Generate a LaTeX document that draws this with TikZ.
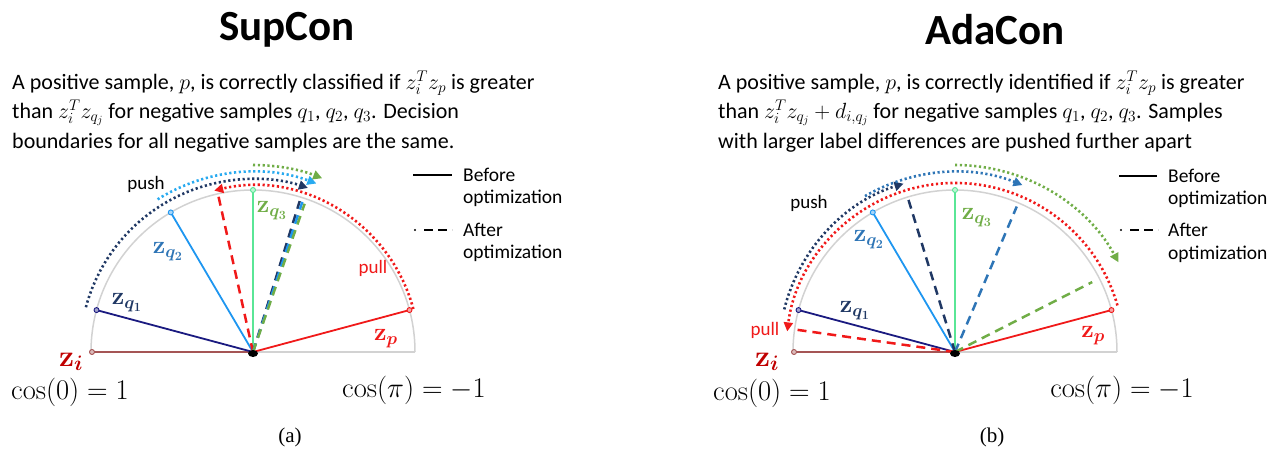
\RequirePackage{fix-cm}
\documentclass[tikz,border=0pt]{standalone}
\usepackage{amsmath}
\usepackage{bm}
\usepackage[no-math]{fontspec}
\setmainfont{Carlito}
\newfontfamily\timesf{Liberation Serif}
\usetikzlibrary{arrows.meta}
\definecolor{navy}{RGB}{26,26,128}
\definecolor{navyd}{RGB}{32,56,100}
\definecolor{lblue}{RGB}{30,150,240}
\definecolor{cyanb}{RGB}{40,170,240}
\definecolor{mblue}{RGB}{46,117,182}
\definecolor{lgreen}{RGB}{90,230,150}
\definecolor{ogreen}{RGB}{112,173,71}
\definecolor{myred}{RGB}{240,25,25}
\definecolor{brownr}{RGB}{165,85,85}
\definecolor{darkred}{RGB}{192,0,0}
\definecolor{arcgray}{RGB}{210,210,210}
\begin{document}
\begin{tikzpicture}[x=1pt,y=1pt,
  vec/.style={line width=1.8pt},
  aft/.style={line width=2.5pt, dash pattern=on 9pt off 6pt},
  dotarc/.style={line width=2.6pt, dash pattern=on 2.2pt off 2.6pt, -{Triangle[length=9pt,width=9pt]}},
  endpt/.style={circle, draw=#1, fill=#1!40, line width=0.9pt, inner sep=0pt, minimum size=5pt},
  title/.style={font=\fontsize{43}{50}\bfseries\selectfont},
  body/.style={font=\fontsize{22}{29}\selectfont, anchor=base west, inner sep=0pt},
  leg/.style={font=\fontsize{19.5}{23}\selectfont, anchor=base west, inner sep=0pt},
  small/.style={font=\fontsize{19}{22}\selectfont},
  zlab/.style={font=\fontsize{25}{27}\selectfont},
  zilab/.style={font=\fontsize{30}{31}\selectfont, text=darkred},
  cosl/.style={font=\fontsize{28.5}{30}\selectfont},
  capt/.style={font=\fontsize{21}{24}\selectfont\timesf},
  semi/.style={draw=arcgray, line width=1.5pt}
]
\useasboundingbox (0,0) rectangle (1286,-455);

% ---------- titles ----------
\node[title] (t1) at (287,-30) {SupCon};
\node[title] (t2) at (995,-30) {AdaCon};

% ---------- body texts ----------
\node[body] (a1) at (12,-89) {A positive sample, $p$, is correctly classified if $z_i^T z_p$ is greater};
\node[body] (a2) at (12,-118) {than $z_i^T z_{q_j}$ for negative samples $q_1$, $q_2$, $q_3$. Decision};
\node[body] (a3) at (12,-148) {boundaries for all negative samples are the same.};
\node[body] (b1) at (718,-89) {A positive sample, $p$, is correctly identified if $z_i^T z_p$ is greater};
\node[body] (b2) at (718,-118) {than $z_i^T z_{q_j} + d_{i,q_j}$ for negative samples $q_1$, $q_2$, $q_3$. Samples};
\node[body] (b3) at (718,-148) {with larger label differences are pushed further apart};

% ---------- legends ----------
\coordinate (L1s) at (413,-175); \coordinate (L1e) at (452,-175);
\draw[line width=2.2pt] (L1s) -- (L1e);
\node[leg] (lb1) at (463,-181) {Before};
\node[leg] (lo1) at (463,-203) {optimization};
\fill (415,-230) circle (1.1pt);
\coordinate (L1ds) at (424,-230); \coordinate (L1de) at (452,-230);
\draw[line width=2.2pt, dash pattern=on 9pt off 5pt] (L1ds) -- (L1de);
\node[leg] (la1) at (463,-236) {After};
\node[leg] (lo1b) at (463,-258) {optimization};

\coordinate (L2s) at (1119,-176); \coordinate (L2e) at (1157,-176);
\draw[line width=2.2pt] (L2s) -- (L2e);
\node[leg] (lb2) at (1168,-182) {Before};
\node[leg] (lo2) at (1168,-204) {optimization};
\fill (1121,-230) circle (1.1pt);
\coordinate (L2ds) at (1130,-230); \coordinate (L2de) at (1158,-230);
\draw[line width=2.2pt, dash pattern=on 9pt off 5pt] (L2ds) -- (L2de);
\node[leg] (la2) at (1168,-236) {After};
\node[leg] (lo2b) at (1168,-259) {optimization};

% ---------- panel (a) ----------
\begin{scope}[shift={(253,-352)}]
  \coordinate (O) at (0,0);
  \coordinate (Zi) at (180:161);
  \coordinate (Q1) at (165:162);
  \coordinate (Q2) at (120.5:162);
  \coordinate (Q3) at (90:162);
  \coordinate (P) at (15:162);
  \draw[semi] (162,0) arc[start angle=0,end angle=180,radius=162];
  \draw[semi] (O) -- (162,0);
  % dotted arcs
  \draw[dotarc, myred] (15:166) arc[start angle=15,end angle=103.5,radius=166];
  \draw[dotarc, navyd] (165:173) arc[start angle=165,end angle=71.5,radius=173];
  \draw[dotarc, cyanb] (122:180) arc[start angle=122,end angle=69.4,radius=180];
  \draw[dotarc, ogreen] (90:187) arc[start angle=90,end angle=68.3,radius=187];
  % solid vectors
  \draw[vec, brownr] (O) -- (Zi);
  \draw[vec, navy] (O) -- (Q1);
  \draw[vec, lblue] (O) -- (Q2);
  \draw[vec, lgreen] (O) -- (Q3);
  \draw[vec, myred] (O) -- (P);
  % dashed (after)
  \coordinate (Ra) at (102.5:160);
  \coordinate (Na) at (72.8:158);
  \coordinate (Ba) at (71.8:158);
  \coordinate (Ga) at (70.8:157);
  \draw[aft, myred] (O) -- (Ra);
  \draw[aft, navyd] (O) -- (Na);
  \draw[aft, lblue] (O) -- (Ba);
  \draw[aft, ogreen] (O) -- (Ga);
  % endpoints
  \node[endpt=brownr] at (Zi) {};
  \node[endpt=navy] at (Q1) {};
  \node[endpt=lblue] at (Q2) {};
  \node[endpt=lgreen] at (Q3) {};
  \node[endpt=myred] at (P) {};
  \fill (0,-1.5) ellipse (5pt and 3.5pt);
\end{scope}
\node[zlab, text=navyd] (lq1a) at (127,-303) {$\mathbf{z}_{\bm{q_1}}$};
\node[zlab, text=mblue] (lq2a) at (168,-252) {$\mathbf{z}_{\bm{q_2}}$};
\node[zlab, text=ogreen] (lq3a) at (272,-211) {$\mathbf{z}_{\bm{q_3}}$};
\node[zlab, text=myred] (lpa) at (386,-339) {$\mathbf{z}_{\bm{p}}$};
\node[zilab] (lia) at (71,-362) {$\mathbf{z}_{\bm{i}}$};
\node[small] (pusha) at (146,-184) {push};
\node[small, text=myred] (pulla) at (373,-268) {pull};
\node[cosl] (c0a) at (70,-392) {$\cos(0) = 1$};
\node[cosl] (cpa) at (414,-390) {$\cos(\pi) = -1$};
\node[capt] (capa) at (290,-437) {(a)};

% ---------- panel (b) ----------
\begin{scope}[shift={(955,-352)}]
  \coordinate (O) at (0,0);
  \coordinate (Zi) at (180:161);
  \coordinate (Q1) at (165:162);
  \coordinate (Q2) at (120.5:162);
  \coordinate (Q3) at (90:162);
  \coordinate (P) at (15:162);
  \draw[semi] (162,0) arc[start angle=0,end angle=180,radius=162];
  \draw[semi] (O) -- (162,0);
  % dotted arcs
  \draw[dotarc, myred] (16:169) arc[start angle=16,end angle=173,radius=169];
  \draw[dotarc, navyd] (166:176) arc[start angle=166,end angle=107,radius=176];
  \draw[dotarc, mblue] (120:180) arc[start angle=120,end angle=68,radius=180];
  \draw[dotarc, ogreen] (90:187) arc[start angle=90,end angle=28.5,radius=186];
  % solid vectors
  \draw[vec, brownr] (O) -- (Zi);
  \draw[vec, navy] (O) -- (Q1);
  \draw[vec, lblue] (O) -- (Q2);
  \draw[vec, lgreen] (O) -- (Q3);
  \draw[vec, myred] (O) -- (P);
  % dashed (after)
  \coordinate (Ra) at (172:160);
  \coordinate (Na) at (107:160);
  \coordinate (Ba) at (67:158);
  \coordinate (Ga) at (27:154);
  \draw[aft, myred] (O) -- (Ra);
  \draw[aft, navyd] (O) -- (Na);
  \draw[aft, mblue] (O) -- (Ba);
  \draw[aft, ogreen] (O) -- (Ga);
  % endpoints
  \node[endpt=brownr] at (Zi) {};
  \node[endpt=navy] at (Q1) {};
  \node[endpt=lblue] at (Q2) {};
  \node[endpt=lgreen] at (Q3) {};
  \node[endpt=myred] at (P) {};
  \fill (0,-1.5) ellipse (5pt and 3.5pt);
\end{scope}
\node[zlab, text=navyd] (lq1b) at (855,-311) {$\mathbf{z}_{\bm{q_1}}$};
\node[zlab, text=mblue] (lq2b) at (869,-240) {$\mathbf{z}_{\bm{q_2}}$};
\node[zlab, text=ogreen] (lq3b) at (977,-218) {$\mathbf{z}_{\bm{q_3}}$};
\node[zlab, text=myred] (lpb) at (1093,-336) {$\mathbf{z}_{\bm{p}}$};
\node[zilab] (lib) at (767,-362) {$\mathbf{z}_{\bm{i}}$};
\node[small] (pushb) at (809,-203) {push};
\node[small, text=myred] (pullb) at (765,-330) {pull};
\node[cosl] (c0b) at (772,-393) {$\cos(0) = 1$};
\node[cosl] (cpb) at (1122,-390) {$\cos(\pi) = -1$};
\node[capt] (capb) at (992,-437) {(b)};
\end{tikzpicture}
\end{document}
